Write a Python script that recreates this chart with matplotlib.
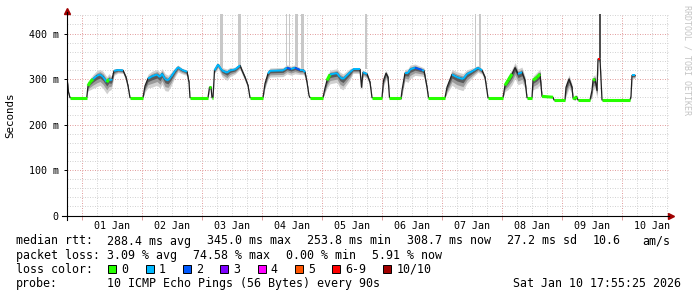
import matplotlib
matplotlib.use("Agg")
import matplotlib.pyplot as plt
from matplotlib.patches import Rectangle

W, H = 697, 297
MONO = "DejaVu Sans Mono"

# hours since 01 Jan 00:00, median rtt (ms), lost pings of 10, smoke spread (ms)
hours = [-5.9, -5.4, -4.8, 1.9, 2.4, 3.2, 4.4, 5.9, 7.2, 8.4, 9.9, 10.8, 11.6, 12.0, 12.8, 14.4,
         16.4, 17.6, 18.4, 19.2, 24.4, 25.2, 26.4, 28.0, 30.0, 31.2, 32.0, 33.2, 34.4, 35.6, 37.2,
         38.4, 40.0, 42.0, 42.8, 43.2, 50.4, 51.0, 51.6, 52.0, 52.4, 53.0, 54.4, 56.0, 58.0, 59.2,
         61.2, 63.2, 64.0, 65.2, 66.4, 67.2, 72.4, 73.2, 74.4, 75.2, 80.4, 82.0, 83.6, 85.2, 87.2,
         88.4, 89.2, 90.0, 90.8, 91.2, 96.4, 97.2, 98.0, 99.2, 102.0, 103.2, 104.4, 107.2, 108.4,
         111.2, 111.8, 112.4, 114.0, 115.2, 116.0, 120.0, 120.6, 121.6, 122.4, 123.0, 127.2, 127.6,
         128.0, 129.2, 130.4, 131.2, 133.2, 136.0, 136.8, 138.0, 138.6, 145.2, 146.0, 148.0, 150.0,
         152.4, 154.0, 156.4, 158.4, 160.0, 161.2, 162.4, 168.4, 169.2, 170.4, 172.0, 173.2, 174.4,
         176.0, 177.2, 178.0, 180.0, 180.4, 182.0, 183.2, 184.0, 188.4, 188.8, 193.2, 193.6, 194.8,
         196.0, 196.4, 197.2, 197.8, 198.4, 203.2, 204.0, 204.4, 205.2, 206.0, 206.4, 207.2, 207.6,
         208.0, 219.2, 219.6, 220.0, 221.2]
median_ms = [297, 271, 259, 259, 285, 293, 300, 307, 310, 305, 293, 300, 297, 300, 318, 320,
             319, 304, 285, 259, 259, 285, 301, 306, 310, 304, 312, 300, 297, 305, 318,
             326, 320, 316, 293, 259, 259, 282, 282, 259, 259, 319, 332, 319, 314, 319,
             321, 330, 319, 304, 286, 259, 259, 290, 312, 318, 319, 325, 322, 325, 320,
             320, 315, 293, 264, 259, 259, 280, 297, 310, 313, 304, 300, 315, 321,
             321, 282, 315, 311, 293, 259, 259, 297, 313, 304, 259, 259, 256,
             275, 313, 313, 321, 325, 320, 318, 282, 259, 259, 282, 310, 304,
             300, 311, 318, 325, 319, 304, 259, 259, 286, 297, 311, 325, 311,
             315, 297, 259, 259, 297, 304, 311, 262, 260, 254, 254, 282, 300,
             282, 259, 256, 262, 254, 254, 275, 297, 300, 275, 344, 344, 300,
             254, 254, 262, 308, 308]
loss = [1, 0, 0, 0, 0, 0, 1, 1, 1, 1, 0, 1, 1, 0, 1, 1,
        1, 1, 0, 0, 0, 0, 1, 1, 1, 1, 1, 1, 1, 1, 1,
        1, 1, 1, 1, 0, 0, 0, 0, 0, 0, 1, 1, 1, 1, 1,
        1, 3, 1, 1, 0, 0, 0, 0, 1, 1, 1, 2, 1, 2, 1,
        1, 1, 1, 0, 0, 0, 0, 0, 1, 1, 1, 1, 1, 1,
        1, 1, 1, 1, 1, 0, 0, 0, 1, 1, 0, 0, 1,
        1, 1, 1, 1, 2, 1, 1, 1, 0, 0, 0, 1, 1,
        1, 1, 1, 1, 1, 1, 0, 0, 0, 0, 1, 3, 1,
        1, 1, 0, 0, 0, 0, 1, 0, 0, 0, 0, 0, 0,
        0, 0, 0, 0, 0, 0, 0, 0, 0, 1, 6, 6, 4,
        0, 0, 1, 1, 1]
spread_ms = [6, 4, 0, 0, 6, 10, 12, 14, 14, 15, 15, 15, 12, 10, 6, 4,
             4, 5, 4, 0, 0, 8, 12, 14, 14, 14, 14, 15, 14, 12, 8,
             6, 5, 5, 4, 0, 0, 3, 3, 0, 0, 4, 5, 8, 10, 8,
             6, 5, 5, 5, 3, 0, 0, 6, 8, 8, 8, 8, 8, 8, 6,
             6, 6, 4, 0, 0, 0, 6, 10, 12, 12, 14, 14, 10, 5,
             5, 4, 5, 6, 4, 0, 0, 8, 8, 6, 0, 0, 0,
             6, 10, 12, 12, 10, 8, 8, 4, 0, 0, 8, 14, 15,
             15, 12, 8, 6, 5, 5, 0, 0, 8, 12, 14, 14, 14,
             14, 10, 0, 0, 12, 14, 14, 2, 0, 0, 0, 12, 12,
             8, 2, 2, 2, 0, 0, 10, 12, 12, 10, 4, 4, 4,
             0, 0, 2, 4, 4]

# max-ping spikes reaching the top of the graph
spike_from = [55.2, 62.4, 81.6, 82.8, 85.2, 87.6, 113.2, 157.2, 158.8, 206.8]
spike_to = [56.4, 63.6, 82.0, 83.2, 86.4, 88.8, 114.0, 157.6, 159.6, 207.6]
spike_base = [320, 330, 325, 322, 325, 320, 321, 325, 325, 344]
spike_dark = [False] * 9 + [True]

loss_levels = ["0", "1", "2", "3", "4", "5", "6-9", "10/10"]
loss_colors = ["#26ff00", "#00b8ff", "#0059ff", "#7e00ff", "#ff00ff", "#ff5500", "#ff0000", "#a10000"]

day_labels = ["01 Jan", "02 Jan", "03 Jan", "04 Jan", "05 Jan",
              "06 Jan", "07 Jan", "08 Jan", "09 Jan", "10 Jan"]
y_ticks = [0, 100, 200, 300, 400]
y_labels = ["0", "100 m", "200 m", "300 m", "400 m"]


def loss_color(n):
    if n >= 10:
        return loss_colors[7]
    if n >= 6:
        return loss_colors[6]
    return loss_colors[n]


fig = plt.figure(figsize=(W / 100, H / 100), dpi=100)
fig.patch.set_facecolor("white")

L, R, T, B = 67, 669, 14, 215.5
ax = fig.add_axes([L / W, 1 - B / H, (R - L) / W, (B - T) / H])
ax.set_xlim(-6, 234.8)
ax.set_ylim(0, 443)
for s in ax.spines.values():
    s.set_visible(False)

# grid
dots = (0, (1, 1.5))
for h in range(-6, 235, 6):
    major = h % 24 == 0
    ax.axvline(h, color="#e3a0a0" if major else "#d4d4d4", lw=0.72, ls=dots, zorder=0)
for v in range(20, 443, 20):
    major = v % 100 == 0
    ax.axhline(v, color="#e3a0a0" if major else "#d4d4d4", lw=0.72, ls=dots, zorder=0)

# spikes
for s0, s1, base, dark in zip(spike_from, spike_to, spike_base, spike_dark):
    ax.fill_between([s0, s1], base, 443, color="#505050" if dark else "#c8c8c8", lw=0, zorder=1)

# smoke, mostly below the median
lo1 = [m - s * 1.7 for m, s in zip(median_ms, spread_ms)]
hi1 = [m + s * 0.8 for m, s in zip(median_ms, spread_ms)]
lo2 = [m - s * 1.1 for m, s in zip(median_ms, spread_ms)]
hi2 = [m + s * 0.45 for m, s in zip(median_ms, spread_ms)]
lo3 = [m - s * 0.55 for m, s in zip(median_ms, spread_ms)]
hi3 = [m + s * 0.2 for m, s in zip(median_ms, spread_ms)]
ax.fill_between(hours, lo1, hi1, color="#d0d0d0", lw=0, zorder=2)
ax.fill_between(hours, lo2, hi2, color="#9a9a9a", lw=0, zorder=2)
ax.fill_between(hours, lo3, hi3, color="#5a5a5a", lw=0, zorder=2)

# median line, coloured by loss where it runs flat
ax.plot(hours, median_ms, color="#202020", lw=0.9, zorder=3)
for i in range(len(hours) - 1):
    dx = (hours[i + 1] - hours[i]) * 2.5
    dy = abs(median_ms[i + 1] - median_ms[i]) * 0.455
    if dy <= 2 * dx:
        ax.plot(hours[i:i + 2], median_ms[i:i + 2], color=loss_color(loss[i]),
                lw=2.2 if loss[i] == 0 else 1.4, solid_capstyle="butt", zorder=4)

# axes lines and arrows
ax.plot([-5 / 602, 1.0], [0, 0], transform=ax.transAxes, clip_on=False, color="black", lw=0.8, zorder=5)
ax.plot([0, 0], [-4.5 / 201.5, 1.01], transform=ax.transAxes, clip_on=False, color="black", lw=0.8, zorder=5)
ax.plot([1.0035], [0], marker=">", ms=4, color="#a00000", mec="#a00000", transform=ax.transAxes, clip_on=False)
ax.plot([0], [1.017], marker="^", ms=4, color="#a00000", mec="#a00000", transform=ax.transAxes, clip_on=False)

# ticks
ax.set_xticks(range(0, 217, 24))
ax.set_xticklabels([])
ax.tick_params(axis="x", which="major", length=3, width=0.7, color="#e3a0a0")
ax.set_xticks([12 + 24 * i for i in range(len(day_labels))], minor=True)
ax.set_xticklabels(day_labels, minor=True, family=MONO, fontsize=7.2)
ax.tick_params(axis="x", which="minor", length=0, pad=4)
ax.set_yticks(y_ticks)
ax.set_yticklabels(y_labels, family=MONO, fontsize=7.2)
ax.tick_params(axis="y", length=2, width=0.7, pad=4)

fig.text(10 / W, 1 - 115 / H, "Seconds", rotation=90, ha="center", va="center", family=MONO, fontsize=7.8)
fig.text(686.5 / W, 1 - 5 / H, "RRDTOOL / TOBI OETIKER", rotation=270, ha="center", va="top",
         family=MONO, fontsize=6, color="#c4c4c4")


def txt(x, y, s):
    fig.text(x / W, 1 - y / H, s, ha="left", va="baseline", family=MONO, fontsize=8.4)


txt(16, 244.5, "median rtt:")
for x, s in zip([107, 207, 307, 407, 507, 593, 642],
                ["288.4 ms avg", "345.0 ms max", "253.8 ms min", "308.7 ms now",
                 "27.2 ms sd", "10.6", "am/s"]):
    txt(x, 244.5, s)
txt(16, 258.7, "packet loss:")
for x, s in zip([107, 192.7, 286, 372.3], ["3.09 % avg", "74.58 % max", "0.00 % min", "5.91 % now"]):
    txt(x, 258.7, s)
txt(16, 272.7, "loss color:")
bx = 108.3
for lab, col in zip(loss_levels, loss_colors):
    fig.patches.append(Rectangle((bx / W, 1 - 272.5 / H), 8 / W, 8 / H, transform=fig.transFigure,
                                 facecolor=col, edgecolor="black", lw=0.7))
    txt(bx + 13.4, 272.7, lab)
    bx += 13.4 + 7 * len(lab) + 16.9
txt(16, 287, "probe:")
txt(107, 287, "10 ICMP Echo Pings (56 Bytes) every 90s")
txt(513.3, 287, "Sat Jan 10 17:55:25 2026")

fig.savefig("out.png", dpi=100, facecolor="white")
